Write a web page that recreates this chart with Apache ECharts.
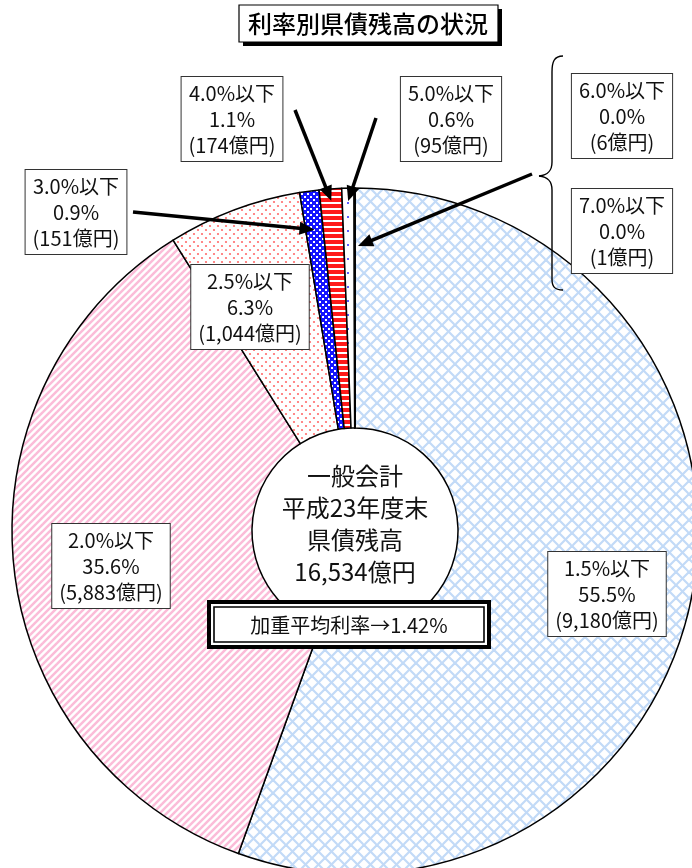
<!DOCTYPE html>
<html>
<head>
<meta charset="utf-8">
<script src="https://cdn.jsdelivr.net/npm/echarts@6/dist/echarts.min.js"></script>
<style>
html, body { margin: 0; padding: 0; background: #fff; }
#main { width: 692px; height: 868px; }
</style>
</head>
<body>
<div id="main"></div>
<script>
// 利率区分・残高（億円）・構成比（%）
var rates = ['1.5%以下', '2.0%以下', '2.5%以下', '3.0%以下', '4.0%以下', '5.0%以下', '6.0%以下', '7.0%以下'];
var amounts = [9180, 5883, 1044, 151, 174, 95, 6, 1];
var shares = [55.5, 35.6, 6.3, 0.9, 1.1, 0.6, 0.0, 0.0];
var totalAmount = 16534;
var avgRate = 1.42;
var centerLines = ['一般会計', '平成23年度末', '県債残高'];

var FONT = "'Noto Sans CJK JP', 'Noto Sans', sans-serif";
var CX = 355, CY = 531, R = 343, R0 = 103;

// ラベルの箱の位置（中心）
var labelPos = [
  [607, 594], [111, 566], [250, 307], [76, 212],
  [232, 119], [451, 119], [622, 116], [622, 231]
];

// 模様
function pattern(w, h, draw) {
  var c = document.createElement('canvas');
  c.width = w; c.height = h;
  var ctx = c.getContext('2d');
  ctx.fillStyle = '#fff';
  ctx.fillRect(0, 0, w, h);
  draw(ctx, w, h);
  return { image: c, repeat: 'repeat' };
}
function diag(ctx, w, dir) {
  for (var k = -w; k <= w; k += w) {
    ctx.beginPath();
    if (dir > 0) { ctx.moveTo(-w, 2 * w + k); ctx.lineTo(2 * w, -w + k); }
    else { ctx.moveTo(-w, -w + k); ctx.lineTo(2 * w, 2 * w + k); }
    ctx.stroke();
  }
}
var fills = [
  pattern(13, 13, function (ctx, w) { // 格子
    ctx.strokeStyle = '#c2daf7'; ctx.lineWidth = 2.2;
    diag(ctx, w, 1); diag(ctx, w, -1);
  }),
  pattern(7, 7, function (ctx, w) { // 斜線
    ctx.strokeStyle = '#fbbcd8'; ctx.lineWidth = 2.5;
    diag(ctx, w, 1);
  }),
  pattern(8, 8, function (ctx) { // 点
    ctx.fillStyle = '#ff6c6c';
    ctx.beginPath(); ctx.arc(2, 2, 1.1, 0, Math.PI * 2); ctx.fill();
    ctx.beginPath(); ctx.arc(6, 6, 1.1, 0, Math.PI * 2); ctx.fill();
  }),
  pattern(6, 6, function (ctx) { // 青市松
    ctx.fillStyle = '#1414ff'; ctx.fillRect(0, 0, 6, 6);
    ctx.fillStyle = '#fff'; ctx.fillRect(1, 1, 2, 2); ctx.fillRect(4, 4, 2, 2);
  }),
  pattern(6, 6, function (ctx) { // 赤横縞
    ctx.fillStyle = '#ff1a1a'; ctx.fillRect(0, 0, 6, 4);
  }),
  pattern(8, 14, function (ctx) { // 青点
    ctx.fillStyle = '#5a5aff'; ctx.fillRect(3, 6, 2, 2);
  }),
  '#fff',
  '#fff'
];

var pieData = rates.map(function (r, i) {
  return { name: r, value: amounts[i], itemStyle: { color: fills[i] } };
});

// スライス内の点（データから角度を計算）
function slicePoint(i, frac, r) {
  var before = 0;
  for (var j = 0; j < i; j++) before += amounts[j];
  var sum = amounts.reduce(function (a, b) { return a + b; }, 0);
  var a = (before + frac * amounts[i]) / sum * Math.PI * 2;
  return [CX + r * Math.sin(a), CY - r * Math.cos(a)];
}

function arrow(tail, tip) {
  var dx = tip[0] - tail[0], dy = tip[1] - tail[1];
  var len = Math.sqrt(dx * dx + dy * dy);
  var ux = dx / len, uy = dy / len;
  var hl = 15, hw = 6.5;
  var bx = tip[0] - ux * hl, by = tip[1] - uy * hl;
  return [
    { type: 'line', z: 10, shape: { x1: tail[0], y1: tail[1], x2: bx + ux * 2, y2: by + uy * 2 },
      style: { stroke: '#000', lineWidth: 3.5 } },
    { type: 'polygon', z: 10, shape: { points: [tip, [bx - uy * hw, by + ux * hw], [bx + uy * hw, by - ux * hw]] },
      style: { fill: '#000' } }
  ];
}

var graphics = [];
// タイトル
graphics.push(
  { type: 'rect', z: 5, shape: { x: 243, y: 9, width: 259, height: 37 }, style: { fill: '#000' } },
  { type: 'rect', z: 6, shape: { x: 239, y: 5, width: 259, height: 37 }, style: { fill: '#fff', stroke: '#000', lineWidth: 1.2 } },
  { type: 'text', z: 7, x: 368, y: 24, style: { text: '利率別県債残高の状況', font: '500 24px ' + FONT, fill: '#000', align: 'center', verticalAlign: 'middle' } }
);
// 中央の文字
graphics.push({
  type: 'text', z: 8, x: CX, y: 524,
  style: {
    text: centerLines.concat([echarts.format.addCommas(totalAmount) + '億円']).join('\n'),
    font: '24px ' + FONT, lineHeight: 32, fill: '#111', align: 'center', verticalAlign: 'middle'
  }
});
// 加重平均利率
graphics.push(
  { type: 'rect', z: 8, shape: { x: 209, y: 602, width: 280, height: 45 }, style: { fill: '#fff', stroke: '#000', lineWidth: 4 } },
  { type: 'rect', z: 9, shape: { x: 214, y: 607, width: 270, height: 35 }, style: { fill: 'none', stroke: '#000', lineWidth: 1.6 } },
  { type: 'text', z: 9, x: 349, y: 625, style: { text: '加重平均利率→' + avgRate.toFixed(2) + '%', font: '20px ' + FONT, fill: '#111', align: 'center', verticalAlign: 'middle' } }
);
// 矢印
graphics = graphics.concat(
  arrow([133, 212], slicePoint(3, 0.5, 304)),
  arrow([295, 110], slicePoint(4, 0.5, 331)),
  arrow([376, 118], slicePoint(5, 0.5, 330)),
  arrow([532, 174], (function () { var p = slicePoint(7, 1, 285); return [p[0] + 3, p[1]]; })())
);
// 中括弧
var bs = { stroke: '#000', lineWidth: 1.4, fill: 'none' };
graphics.push(
  { type: 'bezierCurve', z: 10, shape: { x1: 563, y1: 56, cpx1: 554, cpy1: 56, cpx2: 552, cpy2: 62, x2: 552, y2: 72 }, style: bs },
  { type: 'line', z: 10, shape: { x1: 552, y1: 72, x2: 552, y2: 162 }, style: bs },
  { type: 'bezierCurve', z: 10, shape: { x1: 552, y1: 162, cpx1: 552, cpy1: 171, cpx2: 548, cpy2: 175, x2: 539, y2: 176 }, style: bs },
  { type: 'bezierCurve', z: 10, shape: { x1: 539, y1: 176, cpx1: 548, cpy1: 177, cpx2: 552, cpy2: 181, x2: 552, y2: 190 }, style: bs },
  { type: 'line', z: 10, shape: { x1: 552, y1: 190, x2: 552, y2: 279 }, style: bs },
  { type: 'bezierCurve', z: 10, shape: { x1: 552, y1: 279, cpx1: 552, cpy1: 286, cpx2: 554, cpy2: 290, x2: 563, y2: 290 }, style: bs }
);

var myChart = echarts.init(document.getElementById('main'));
var option = {
  backgroundColor: '#fff',
  animation: false,
  graphic: graphics,
  series: [
    {
      type: 'pie',
      center: [CX, CY],
      radius: [R0, R],
      startAngle: 90,
      clockwise: true,
      avoidLabelOverlap: false,
      silent: true,
      itemStyle: { borderColor: '#000', borderWidth: 1.5 },
      label: {
        show: true,
        position: 'inside',
        fontFamily: FONT,
        fontSize: 20,
        lineHeight: 26,
        color: '#111',
        backgroundColor: '#fff',
        borderColor: '#333',
        borderWidth: 1,
        padding: [4, 7, 2, 7],
        formatter: function (p) {
          var i = p.dataIndex;
          return rates[i] + '\n' + shares[i].toFixed(1) + '%\n(' + echarts.format.addCommas(amounts[i]) + '億円)';
        }
      },
      labelLine: { show: false },
      labelLayout: function (params) {
        var pos = labelPos[params.dataIndex];
        return { x: pos[0], y: pos[1], align: 'center', verticalAlign: 'middle' };
      },
      data: pieData
    }
  ]
};
myChart.setOption(option);
</script>
</body>
</html>
